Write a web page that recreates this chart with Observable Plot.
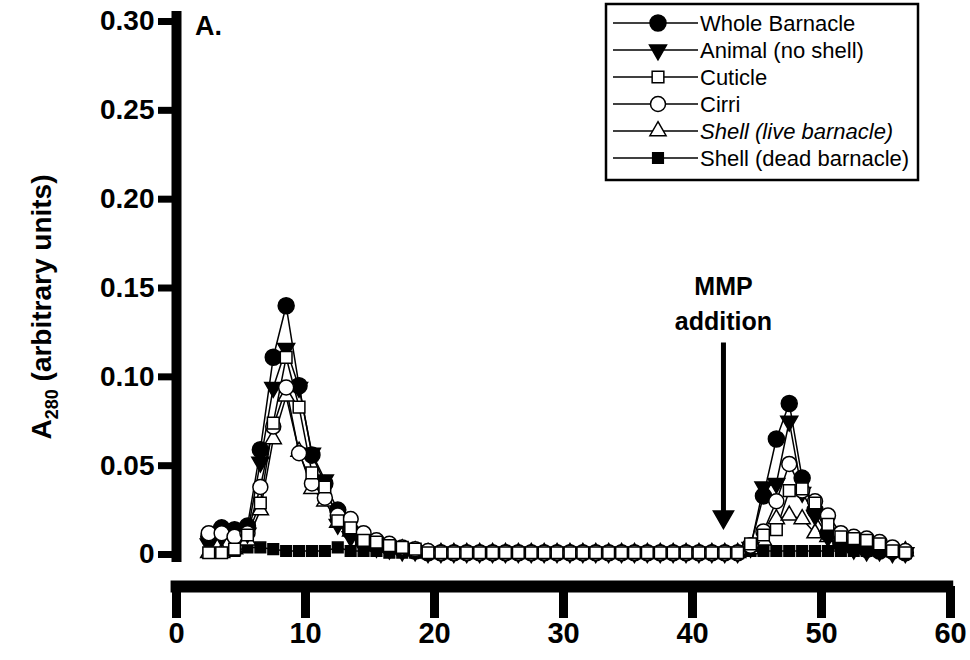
<!DOCTYPE html>
<html><head><meta charset="utf-8">
<script src="https://cdn.jsdelivr.net/npm/d3@7"></script>
<script src="https://cdn.jsdelivr.net/npm/@observablehq/plot@0.6"></script>
<style>
body{margin:0;background:#fff;}
#wrap{position:relative;width:970px;height:660px;overflow:hidden;}
#legend{position:absolute;left:0;top:0;pointer-events:none;}
</style></head><body><div id="wrap"></div>
<script>
// ---- data ----
const fractions = [2.5,3.5,4.5,5.5,6.5,7.5,8.5,9.5,10.5,11.5,
  12.5,13.5,14.5,15.5,16.5,17.5,18.5,19.5,20.5,21.5,
  22.5,23.5,24.5,25.5,26.5,27.5,28.5,29.5,30.5,31.5,
  32.5,33.5,34.5,35.5,36.5,37.5,38.5,39.5,40.5,41.5,
  42.5,43.5,44.5,45.5,46.5,47.5,48.5,49.5,50.5,51.5,
  52.5,53.5,54.5,55.5,56.5];

const wholeBarnacle = [0.010,0.015,0.014,0.016,0.059,0.111,0.140,0.095,0.056,0.040,
  0.025,0.013,0.007,0.005,0.004,0.003,0.002,0.001,0.001,0.001,
  0.001,0.001,0.001,0.001,0.001,0.001,0.001,0.001,0.001,0.001,
  0.001,0.001,0.001,0.001,0.001,0.001,0.001,0.001,0.001,0.001,
  0.001,0.001,0.005,0.033,0.065,0.085,0.043,0.025,0.012,0.006,
  0.004,0.003,0.002,0.002,0.001];

const animalNoShell = [0.006,0.010,0.012,0.012,0.052,0.094,0.116,0.094,0.057,0.042,
  0.017,0.010,0.006,0.004,0.003,0.002,0.002,0.001,0.001,0.001,
  0.001,0.001,0.001,0.001,0.001,0.001,0.001,0.001,0.001,0.001,
  0.001,0.001,0.001,0.001,0.001,0.001,0.001,0.001,0.001,0.001,
  0.001,0.001,0.004,0.038,0.040,0.075,0.035,0.022,0.010,0.005,
  0.003,0.002,0.002,0.001,0.001];

const cuticle = [0.001,0.001,0.003,0.011,0.029,0.074,0.111,0.083,0.046,0.038,
  0.019,0.015,0.008,0.007,0.005,0.004,0.003,0.001,0.001,0.001,
  0.001,0.001,0.001,0.001,0.001,0.001,0.001,0.001,0.001,0.001,
  0.001,0.001,0.001,0.001,0.001,0.001,0.001,0.001,0.001,0.001,
  0.001,0.001,0.006,0.011,0.014,0.036,0.037,0.029,0.017,0.010,
  0.009,0.008,0.006,0.002,0.001];

const cirri = [0.012,0.012,0.010,0.012,0.038,0.072,0.094,0.057,0.040,0.032,
  0.022,0.020,0.012,0.008,0.006,0.004,0.003,0.002,0.001,0.001,
  0.001,0.001,0.001,0.001,0.001,0.001,0.001,0.001,0.001,0.001,
  0.001,0.001,0.001,0.001,0.001,0.001,0.001,0.001,0.001,0.001,
  0.001,0.001,0.005,0.013,0.030,0.051,0.036,0.030,0.022,0.012,
  0.010,0.009,0.007,0.004,0.002];

const shellLive = [0.001,0.001,0.003,0.008,0.025,0.065,0.089,0.058,0.037,0.030,
  0.018,0.013,0.008,0.005,0.004,0.003,0.002,0.001,0.001,0.001,
  0.001,0.001,0.001,0.001,0.001,0.001,0.001,0.001,0.001,0.001,
  0.001,0.001,0.001,0.001,0.001,0.001,0.001,0.001,0.001,0.001,
  0.001,0.001,0.003,0.008,0.020,0.022,0.020,0.012,0.010,0.006,
  0.005,0.004,0.003,0.002,0.002];

const shellDead = [0.001,0.001,0.002,0.004,0.004,0.003,0.002,0.002,0.002,0.002,
  0.004,0.002,0.002,0.002,0.001,0.001,0.001,0.001,0.001,0.001,
  0.001,0.001,0.001,0.001,0.001,0.001,0.001,0.001,0.001,0.001,
  0.001,0.001,0.001,0.001,0.001,0.001,0.001,0.001,0.001,0.001,
  0.001,0.001,0.002,0.002,0.002,0.002,0.002,0.002,0.002,0.002,
  0.002,0.002,0.002,0.002,0.001];

const seriesNames = ["Whole Barnacle","Animal (no shell)","Cuticle","Cirri","Shell (live barnacle)","Shell (dead barnacle)"];
const seriesValues = [wholeBarnacle, animalNoShell, cuticle, cirri, shellLive, shellDead];
const yTicks = [0,0.05,0.10,0.15,0.20,0.25,0.30];
const xTicks = [0,10,20,30,40,50,60];
const mmpLabel = ["MMP","addition"];
const mmpFraction = 42.4;

// ---- styles ----
const markerStyle = {
  "Whole Barnacle":        {symbol:"circle",   r:8,   fill:"black", rotate:0},
  "Animal (no shell)":     {symbol:"triangle", r:6.3, fill:"black", rotate:180},
  "Cuticle":               {symbol:"square",   r:6.6, fill:"white", rotate:0},
  "Cirri":                 {symbol:"circle",   r:7.5, fill:"white", rotate:0},
  "Shell (live barnacle)": {symbol:"triangle", r:6,   fill:"white", rotate:0},
  "Shell (dead barnacle)": {symbol:"square",   r:6,   fill:"black", rotate:0}
};
const drawOrder = ["Shell (dead barnacle)","Shell (live barnacle)","Animal (no shell)","Whole Barnacle","Cirri","Cuticle"];

const rows = [];
seriesNames.forEach((name, i) => {
  fractions.forEach((f, j) => rows.push({series: name, x: f, y: seriesValues[i][j]}));
});

const FONT = '"Liberation Sans", Arial, Helvetica, sans-serif';

const dots = drawOrder.map(name => {
  const s = markerStyle[name];
  return Plot.dot(rows.filter(d => d.series === name), {
    x: "x", y: "y", symbol: s.symbol, r: s.r, fill: s.fill,
    stroke: "black", strokeWidth: 1.5, rotate: s.rotate
  });
});

const chart = Plot.plot({
  width: 970, height: 660,
  marginLeft: 176, marginRight: 20, marginTop: 21, marginBottom: 74,
  x: {domain: [0, 60]},
  y: {domain: [-0.018, 0.3]},
  style: {fontFamily: FONT, fontWeight: "bold", background: "white", color: "black", overflow: "visible"},
  marks: [
    Plot.ruleX([0], {y1: -0.0045, y2: 0.3056, strokeWidth: 10, stroke: "black"}),
    Plot.ruleY([-0.018], {x1: -0.42, x2: 60.25, strokeWidth: 12, stroke: "black"}),
    Plot.axisY({ticks: yTicks, tickSize: 18, strokeWidth: 7, tickPadding: 4, fontSize: 28, fontWeight: "bold",
      tickFormat: d => d === 0 ? "0" : d.toFixed(2), label: null}),
    Plot.axisX({ticks: xTicks, tickSize: 32, strokeWidth: 9, tickPadding: 4, fontSize: 29, fontWeight: "bold",
      tickFormat: d => String(d), label: null}),
    Plot.line(rows, {x: "x", y: "y", z: "series", stroke: "black", strokeWidth: 1.5}),
    ...dots,
    // MMP addition annotation
    Plot.text([{x: mmpFraction, y: 0.1503, t: mmpLabel[0]}, {x: mmpFraction, y: 0.1306, t: mmpLabel[1]}],
      {x: "x", y: "y", text: "t", fontSize: 25, fontWeight: "bold", textAnchor: "middle"}),
    Plot.ruleX([mmpFraction], {y1: 0.119, y2: 0.024, strokeWidth: 5, stroke: "black"}),
    Plot.dot([{x: mmpFraction, y: 0.0212}], {x: "x", y: "y", symbol: "triangle", r: 7.5, rotate: 180, fill: "black", stroke: "black"})
  ]
});

const wrap = document.getElementById("wrap");
wrap.appendChild(chart);

const svg = d3.select(chart);
// panel label
svg.append("text")
  .attr("x", 195).attr("y", 35)
  .attr("text-anchor", "start")
  .style("font-family", FONT).style("font-weight", "bold").style("font-size", "27px")
  .attr("fill", "black").text("A.");

// y-axis title with subscript
const title = svg.append("text")
  .attr("transform", "translate(51,307) rotate(-90)")
  .attr("text-anchor", "middle")
  .attr("font-family", FONT)
  .attr("font-weight", "bold")
  .attr("font-size", 28)
  .attr("fill", "black");
title.append("tspan").text("A");
title.append("tspan").attr("font-size", 18).attr("dy", 7).text("280");
title.append("tspan").attr("dy", -7).text(" (arbitrary units)");

// legend
const leg = d3.select(wrap).append("svg")
  .attr("id", "legend").attr("width", 970).attr("height", 200);
leg.append("rect").attr("x", 606).attr("y", 4).attr("width", 312).attr("height", 176)
  .attr("fill", "white").attr("stroke", "black").attr("stroke-width", 2.5);
const symMap = {circle: d3.symbolCircle, square: d3.symbolSquare, triangle: d3.symbolTriangle};
seriesNames.forEach((name, i) => {
  const s = markerStyle[name];
  const yy = 23 + i * 27;
  leg.append("line").attr("x1", 613).attr("x2", 698).attr("y1", yy).attr("y2", yy)
    .attr("stroke", "black").attr("stroke-width", 1.5);
  leg.append("path")
    .attr("d", d3.symbol().type(symMap[s.symbol]).size(Math.PI * s.r * s.r)())
    .attr("transform", `translate(658,${yy}) rotate(${s.rotate})`)
    .attr("fill", s.fill).attr("stroke", "black").attr("stroke-width", 1.5);
  leg.append("text").attr("x", 700).attr("y", yy).attr("dy", "0.35em")
    .attr("font-family", FONT).attr("font-size", 22)
    .attr("font-style", name === "Shell (live barnacle)" ? "italic" : "normal")
    .attr("fill", "black").text(name);
});
</script>
</body></html>
